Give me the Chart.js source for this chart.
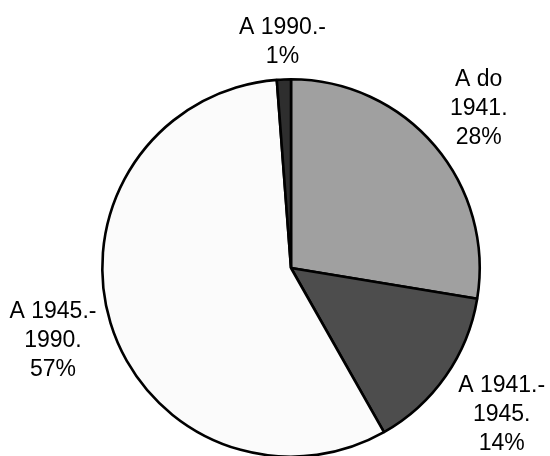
<!DOCTYPE html>
<html>
<head>
<meta charset="utf-8">
<script src="https://cdn.jsdelivr.net/npm/chart.js@4/dist/chart.umd.min.js"></script>
<style>
  html, body { margin: 0; padding: 0; background: #ffffff; overflow: hidden; }
  #wrap { position: relative; width: 550px; height: 470px; }
</style>
</head>
<body>
<div id="wrap"><canvas id="c"></canvas></div>
<script>
// Categories (each label split into its displayed lines)
const categories = [["A do", "1941."], ["A 1941.-", "1945."], ["A 1945.-", "1990."], ["A 1990.-"]];
// Series values (percent share)
const values = [27.6, 14.2, 57.0, 1.2];
// Slice fills
const sliceColors = ["#a0a0a0", "#4d4d4d", "#fbfbfb", "#2e2e2e"];

const FONT_SIZE = 23;
const LINE_H = 29;
const LABEL_GAP = 8;

function boxDist(cx, cy, bx, by, hw, hh) {
  const dx = Math.max(Math.abs(bx - cx) - hw, 0);
  const dy = Math.max(Math.abs(by - cy) - hh, 0);
  return Math.hypot(dx, dy);
}

const outsideLabels = {
  id: "outsideLabels",
  afterDraw(chart) {
    const ctx = chart.ctx;
    const meta = chart.getDatasetMeta(0);
    const total = values.reduce((a, b) => a + b, 0);
    ctx.save();
    ctx.font = FONT_SIZE + "px 'Liberation Sans', Arial, sans-serif";
    ctx.fillStyle = "#000000";
    ctx.textAlign = "center";
    ctx.textBaseline = "middle";
    meta.data.forEach((arc, i) => {
      const p = arc.getProps(["x", "y", "startAngle", "endAngle", "outerRadius"], true);
      const mid = (p.startAngle + p.endAngle) / 2;
      const ux = Math.cos(mid), uy = Math.sin(mid);
      const pct = Math.round(Math.round(values[i] / total * 1000) / 10);
      const lines = categories[i].concat([pct + "%"]);
      let w = 0;
      lines.forEach(l => { w = Math.max(w, ctx.measureText(l).width); });
      const h = lines.length * LINE_H;
      const target = p.outerRadius + LABEL_GAP;
      let lo = 0, hi = 1000;
      for (let k = 0; k < 60; k++) {
        const d = (lo + hi) / 2;
        const dist = boxDist(p.x, p.y, p.x + d * ux, p.y + d * uy, w / 2, h / 2);
        if (dist < target) lo = d; else hi = d;
      }
      const cx = p.x + lo * ux;
      const cy = p.y + lo * uy;
      lines.forEach((l, k) => {
        ctx.fillText(l, cx, cy - h / 2 + LINE_H * (k + 0.5));
      });
    });
    ctx.restore();
  }
};

new Chart(document.getElementById("c"), {
  type: "pie",
  data: {
    labels: categories.map(c => c.join(" ")),
    datasets: [{
      data: values,
      backgroundColor: sliceColors,
      borderColor: "#000000",
      borderWidth: 2.6,
      borderAlign: "center"
    }]
  },
  options: {
    responsive: true,
    maintainAspectRatio: false,
    animation: false,
    layout: { padding: { left: 101, right: 69, top: 78, bottom: 12 } },
    plugins: {
      legend: { display: false },
      tooltip: { enabled: false }
    }
  },
  plugins: [outsideLabels]
});
</script>
</body>
</html>
